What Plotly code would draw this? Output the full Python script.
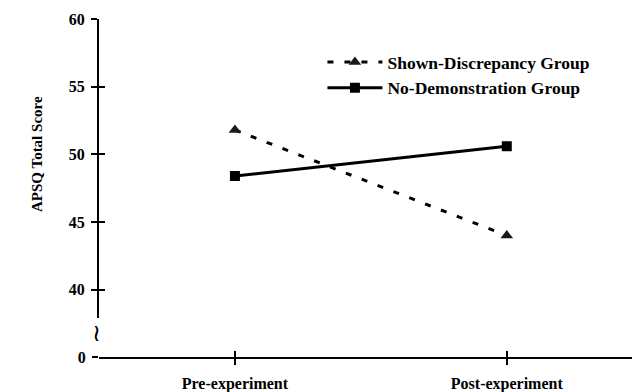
import plotly.graph_objects as go

categories = ["Pre-experiment", "Post-experiment"]
shown_discrepancy = [51.8, 44.0]
no_demonstration = [48.4, 50.6]
y_tick_vals = [40, 45, 50, 55, 60]
y_tick_text = ["40", "45", "50", "55", "60"]

FONT = "Liberation Serif"
bold = dict(family=FONT, size=16, color="black", weight="bold")

fig = go.Figure()
fig.add_trace(go.Scatter(
    x=[0, 1], y=shown_discrepancy, name="Shown-Discrepancy Group",
    mode="lines+markers",
    line=dict(color="black", width=3, dash="6px,11px"),
    marker=dict(symbol="triangle-up", size=11, color="#1a1a1a"),
    xaxis="x", yaxis="y", cliponaxis=False,
))
fig.add_trace(go.Scatter(
    x=[0, 1], y=no_demonstration, name="No-Demonstration Group",
    mode="lines+markers",
    line=dict(color="black", width=3),
    marker=dict(symbol="square", size=10, color="black"),
    xaxis="x", yaxis="y", cliponaxis=False,
))
# empty helper traces so that the overlay/broken axes are drawn
for xa, ya in [("x2", "y3"), ("x", "y2"), ("x", "y4")]:
    fig.add_trace(go.Scatter(x=[], y=[], xaxis=xa, yaxis=ya,
                             showlegend=False, hoverinfo="skip"))

axis_common = dict(showgrid=False, zeroline=False, tickcolor="black",
                   tickwidth=1.5, ticklen=6, linecolor="black", automargin=False)

fig.update_layout(
    width=632, height=384,
    margin=dict(l=91, r=0, t=11, b=35, autoexpand=False),
    paper_bgcolor="white", plot_bgcolor="white",
    font=dict(family=FONT, color="black"),
    showlegend=True,
    legend=dict(x=0.413, y=0.926, xanchor="left", yanchor="top",
                font=dict(family=FONT, size=17.5, color="black", weight="bold"),
                itemwidth=55, tracegroupgap=0, bgcolor="rgba(0,0,0,0)"),
    xaxis=dict(**axis_common, domain=[0, 1], anchor="y2", range=[-0.5, 1.49],
               tickmode="array", tickvals=[0, 1], ticktext=categories,
               tickson="boundaries", ticks="outside", showline=True, linewidth=2,
               tickfont=bold, ticklabelstandoff=5),
    xaxis2=dict(**axis_common, overlaying="x", anchor="y2", range=[-0.5, 1.49],
                tickmode="array", tickvals=[0, 1], ticktext=["", ""],
                tickson="boundaries", ticks="inside", showline=False,
                showticklabels=False),
    yaxis=dict(**axis_common, domain=[0.115, 1], anchor="x", range=[37.9, 60],
               tickmode="array", tickvals=y_tick_vals, ticktext=y_tick_text,
               ticks="outside", showline=True, linewidth=2, tickfont=bold,
               ticklabelstandoff=3),
    yaxis3=dict(**axis_common, overlaying="y", anchor="x", range=[37.9, 60],
                tickmode="array", tickvals=y_tick_vals, ticks="inside",
                showline=False, showticklabels=False),
    yaxis2=dict(**axis_common, domain=[0, 0.04], anchor="x", range=[0, 1],
                tickmode="array", tickvals=[0], ticktext=["0"],
                ticks="outside", showline=False, tickfont=bold,
                ticklabelstandoff=3),
    yaxis4=dict(**axis_common, overlaying="y2", anchor="x", range=[0, 1],
                tickmode="array", tickvals=[0], ticks="inside",
                showline=False, showticklabels=False),
    annotations=[
        dict(text="APSQ Total Score", textangle=-90, xref="paper", yref="paper",
             x=-0.115, y=0.6, xanchor="center", yanchor="middle",
             showarrow=False, font=dict(family=FONT, size=15, color="black", weight="bold")),
        dict(text="≀", xref="paper", yref="paper", x=-0.004, y=0.071,
             xanchor="center", yanchor="middle", showarrow=False,
             font=dict(family="DejaVu Sans", size=24, color="black")),
    ],
)

fig.write_html("out.html")
